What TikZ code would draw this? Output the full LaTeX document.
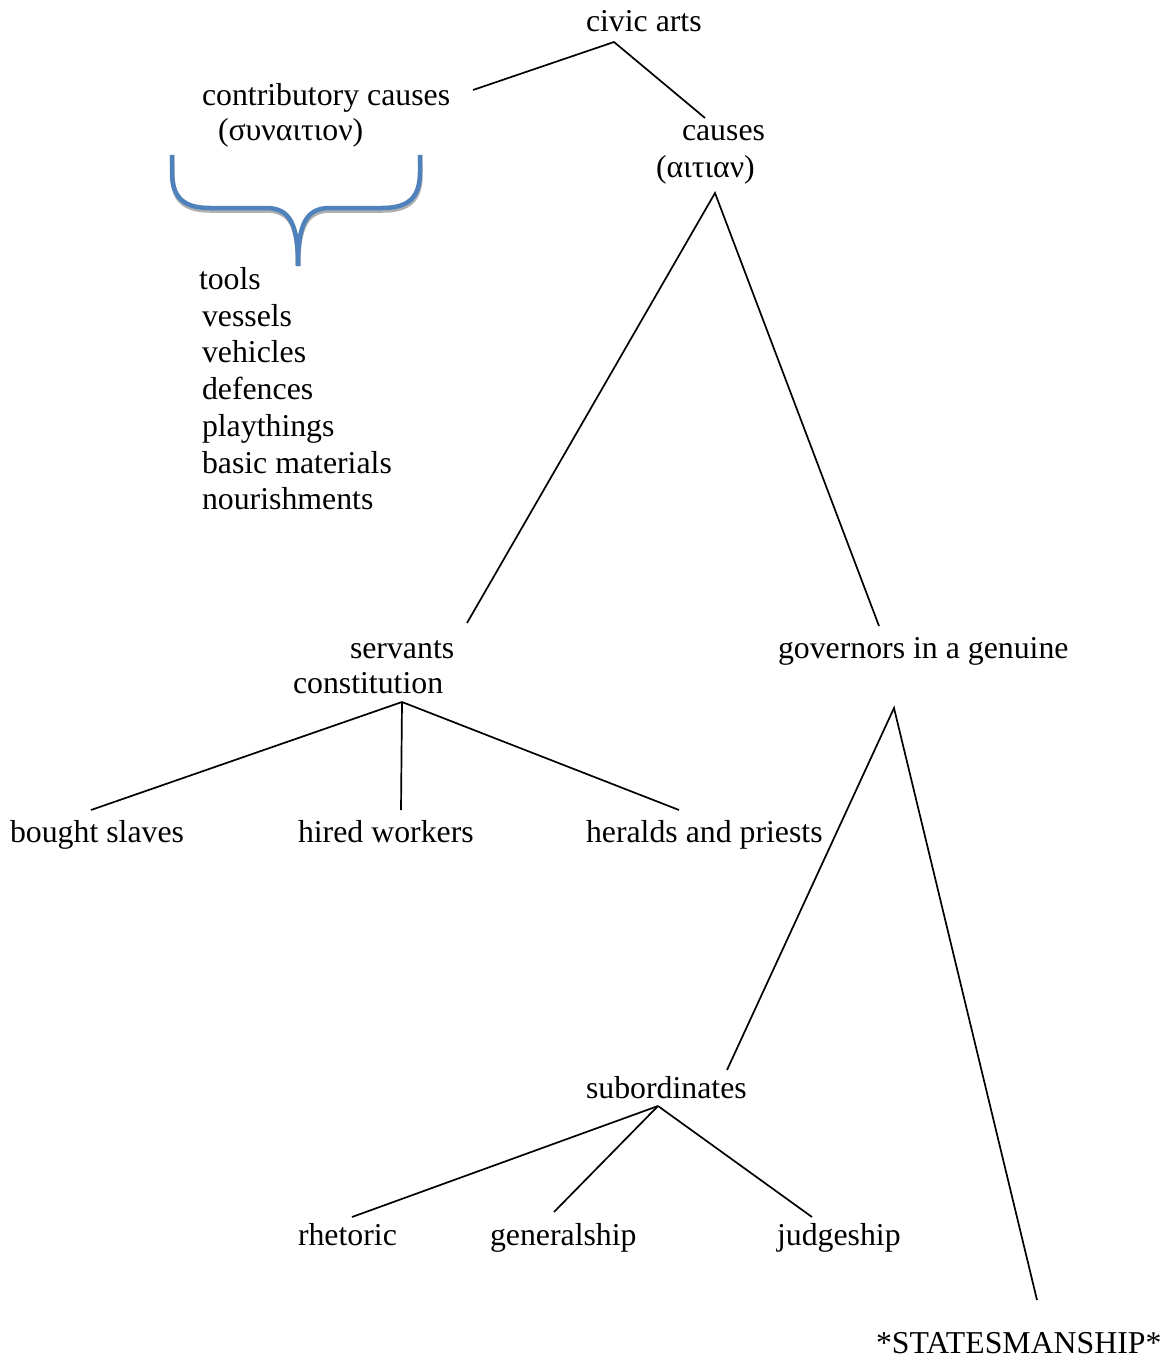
\documentclass[tikz,border=0pt]{standalone}
\usepackage{fontspec}
\setmainfont{Liberation Serif}
\definecolor{braceblue}{RGB}{79,129,189}
\definecolor{braceshadow}{RGB}{175,175,175}
\begin{document}
\begin{tikzpicture}[x=1pt,y=-1pt,
  lbl/.style={anchor=base west,inner sep=0pt,outer sep=0pt,font=\fontsize{31.8pt}{36pt}\selectfont},
  conn/.style={line width=1.7pt,black},
  bracepath/.style={line width=4.5pt,braceblue,line cap=butt}]
\useasboundingbox[fill=white] (0,0) rectangle (1173,1359);

% labels
\node[lbl] (civic) at (586,32) {civic arts};
\node[lbl] (contrib) at (202,106) {contributory causes};
\node[lbl] (synaition) at (218,141) {(συναιτιον)};
\node[lbl] (causes) at (682,141) {causes};
\node[lbl] (aitian) at (656,178) {(αιτιαν)};
\node[lbl] (tools) at (199,289) {tools};
\node[lbl] (vessels) at (202,326) {vessels};
\node[lbl] (vehicles) at (202,362) {vehicles};
\node[lbl] (defences) at (202,399) {defences};
\node[lbl] (playthings) at (202,436) {playthings};
\node[lbl] (basic) at (202,473) {basic materials};
\node[lbl] (nourish) at (202,509) {nourishments};
\node[lbl] (servants) at (350,658) {servants};
\node[lbl] (constitution) at (293,693) {constitution};
\node[lbl] (governors) at (778,658) {governors in a genuine};
\node[lbl] (bought) at (10,842) {bought slaves};
\node[lbl] (hired) at (298,842) {hired workers};
\node[lbl] (heralds) at (586,842) {heralds and priests};
\node[lbl] (subord) at (586,1098) {subordinates};
\node[lbl] (rhetoric) at (298,1245) {rhetoric};
\node[lbl] (general) at (490,1245) {generalship};
\node[lbl] (judge) at (777,1245) {judgeship};
\node[lbl] (states) at (876,1353) {*STATESMANSHIP*};

% connector points
\coordinate (civicJ) at (614,42);
\coordinate (contribE) at (473,90);
\coordinate (causesE) at (705,118);
\coordinate (aitianJ) at (715,193);
\coordinate (servantsE) at (467,623);
\coordinate (governorsE) at (879,626);
\coordinate (constJ) at (402,702);
\coordinate (boughtE) at (91,810);
\coordinate (hiredE) at (401,810);
\coordinate (heraldsE) at (679,810);
\coordinate (govJ) at (894,708);
\coordinate (subordE) at (727,1070);
\coordinate (statesE) at (1037,1300);
\coordinate (subJ) at (658,1106);
\coordinate (rhetoricE) at (352,1217);
\coordinate (generalE) at (554,1212);
\coordinate (judgeE) at (812,1217);

\draw[conn] (contribE) -- (civicJ) -- (causesE);
\draw[conn] (servantsE) -- (aitianJ) -- (governorsE);
\draw[conn] (constJ) -- (boughtE);
\draw[conn] (constJ) -- (hiredE);
\draw[conn] (constJ) -- (heraldsE);
\draw[conn] (subordE) -- (govJ) -- (statesE);
\draw[conn] (subJ) -- (rhetoricE);
\draw[conn] (subJ) -- (generalE);
\draw[conn] (subJ) -- (judgeE);

% curly brace
\coordinate (braceL) at (172,155);
\coordinate (braceR) at (420,155);
\coordinate (braceTip) at (298,266);
\foreach \dx/\dy/\col in {0.5/2.5/braceshadow,0/0/braceblue}{
  \begin{scope}[shift={(\dx,\dy)}]
  \draw[bracepath,draw=\col] (braceL) -- (172,172) .. controls (172,198) and (184,208) .. (210,208)
     -- (266,208) .. controls (290,208) and (298,224) .. (braceTip);
  \draw[bracepath,draw=\col] (braceR) -- (420,172) .. controls (420,198) and (408,208) .. (382,208)
     -- (330,208) .. controls (306,208) and (298,224) .. (braceTip);
  \end{scope}
}
\end{tikzpicture}
\end{document}
